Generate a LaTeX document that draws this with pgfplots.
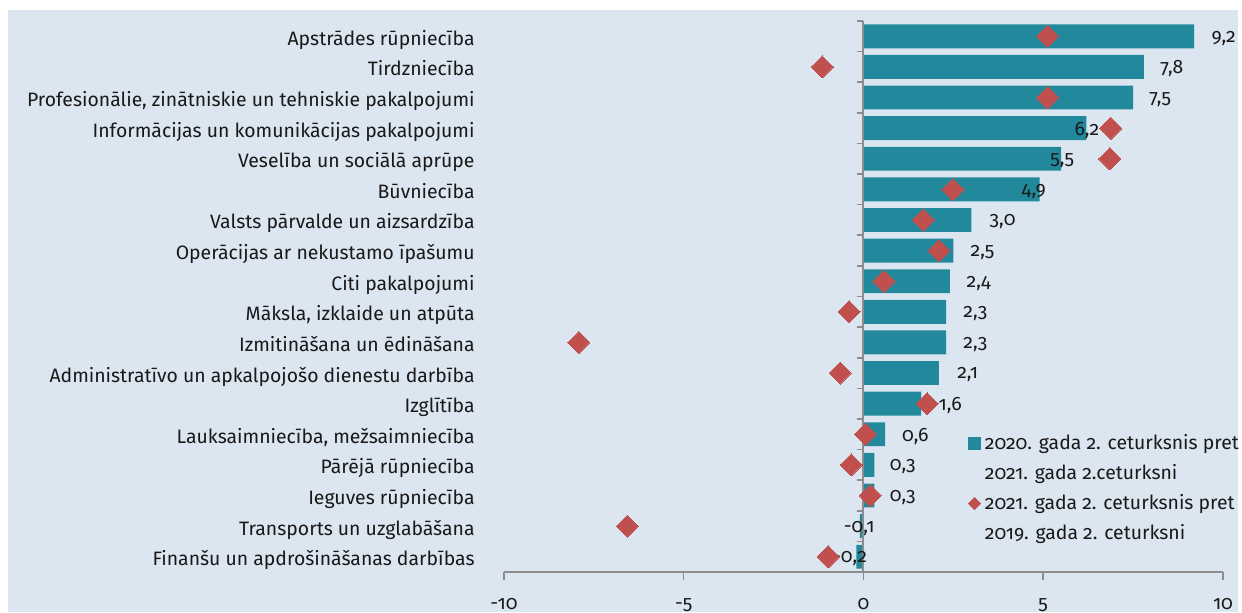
\documentclass[border=0pt]{standalone}
\usepackage{pgfplots}
\pgfplotsset{compat=1.18}
\usepackage{pgfplotstable}
\usepackage{fontspec}
\setmainfont[Numbers=OldStyle]{Fira Sans}

\definecolor{colBg}{RGB}{220,230,241}
\definecolor{colBar}{RGB}{33,137,155}
\definecolor{colDia}{RGB}{192,80,77}
\definecolor{colAxis}{RGB}{140,140,140}
\definecolor{colText}{RGB}{25,25,25}

% idx: row from the top, bar = 2020Q2 vs 2021Q2, dia = 2021Q2 vs 2019Q2
% lx: where the value label starts
\pgfplotstableread{
idx bar  dia    lx     lab
0   9.2  5.12   9.67   9,2
1   7.8  -1.15  8.25   7,8
2   7.5  5.12   7.94   7,5
3   6.2  6.88   5.86   6,2
4   5.5  6.85   5.19   5,5
5   4.9  2.49   4.39   4,9
6   3.0  1.66   3.50   3,0
7   2.5  2.10   2.97   2,5
8   2.4  0.57   2.86   2,4
9   2.3  -0.40  2.77   2,3
10  2.3  -7.92  2.77   2,3
11  2.1  -0.65  2.60   2,1
12  1.6  1.77   2.08   1,6
13  0.6  0.05   1.06   0,6
14  0.3  -0.34  0.72   0,3
15  0.3  0.19   0.72   0,3
16  -0.1 -6.57  -0.56  -0,1
17  -0.2 -0.98  -0.86  -0,2
}\datatable

\newcommand{\chartfont}{\fontsize{9.7}{11.6}\selectfont}

\begin{document}
\begin{tikzpicture}
\fill[colBg] (-248pt,-20pt) rectangle (367pt,281pt);
\begin{axis}[
    at={(0,0)}, anchor=south west,
    scale only axis,
    width=359.5pt, height=275.5pt,
    font=\chartfont,
    clip=false,
    xmin=-10, xmax=10,
    ymin=-0.5, ymax=17.5,
    y dir=reverse,
    axis x line*=bottom,
    axis y line*=left,
    y axis line style={draw=none},
    x axis line style={draw=colAxis, line width=0.75pt},
    xtick={-10,-5,0,5,10},
    xticklabels={-10,-5,0,5,10},
    tick align=outside,
    major tick length=4pt,
    xtick style={draw=colAxis, line width=0.75pt},
    xticklabel style={anchor=base, inner sep=0pt, yshift=-14.5pt, text=colText},
    ytick={0,...,17},
    yticklabels={
        Apstrādes rūpniecība,
        Tirdzniecība,
        {Profesionālie, zinātniskie un tehniskie pakalpojumi},
        Informācijas un komunikācijas pakalpojumi,
        Veselība un sociālā aprūpe,
        Būvniecība,
        Valsts pārvalde un aizsardzība,
        Operācijas ar nekustamo īpašumu,
        Citi pakalpojumi,
        {Māksla, izklaide un atpūta},
        Izmitināšana un ēdināšana,
        Administratīvo un apkalpojošo dienestu darbība,
        Izglītība,
        {Lauksaimniecība, mežsaimniecība},
        Pārējā rūpniecība,
        Ieguves rūpniecība,
        Transports un uzglabāšana,
        Finanšu un apdrošināšanas darbības},
    ytick style={draw=none},
    yticklabel style={anchor=base east, inner sep=0pt, xshift=-10.5pt, yshift=-4.5pt, text=colText},
    legend style={
        draw=none, fill=none,
        at={(0.645,0.258)}, anchor=north west,
        font=\chartfont,
        text=colText,
        row sep=2pt,
        inner sep=0pt,
    },
    legend cell align=left,
]

\addplot[xbar, bar width=0.78, fill=colBar, draw=none, forget plot]
    table[x=bar, y=idx] {\datatable};

\addplot[draw=colAxis, line width=1pt, forget plot]
    coordinates {(0,-0.5) (0,17.5)};
\addplot[only marks, mark=-, mark size=1.5pt, forget plot,
    mark options={xshift=-1.5pt, draw=colAxis, line width=0.8pt}]
    coordinates {(0,-0.5)(0,0.5)(0,1.5)(0,2.5)(0,3.5)(0,4.5)(0,5.5)(0,6.5)(0,7.5)
                 (0,8.5)(0,9.5)(0,10.5)(0,11.5)(0,12.5)(0,13.5)(0,14.5)(0,15.5)(0,16.5)};

\addplot[draw=none, mark=none, forget plot,
    nodes near coords, point meta=explicit symbolic,
    nodes near coords style={anchor=west, inner sep=0pt, yshift=-1pt, text=colText,
        font=\chartfont}]
    table[x=lx, y=idx, meta=lab] {\datatable};

\addplot[colDia, only marks, mark=square*, mark size=3.9pt, forget plot,
    mark options={rotate=45, fill=colDia, draw=colDia, line width=0pt}]
    table[x=dia, y=idx] {\datatable};

\addlegendimage{legend image code/.code={
    \fill[colBar] (-3pt,-3pt) rectangle (3pt,3pt);}}
\addlegendentry{2020. gada 2. ceturksnis pret}
\addlegendimage{empty legend}
\addlegendentry{2021. gada 2.ceturksni}
\addlegendimage{legend image code/.code={
    \fill[colDia, rotate=45] (-2.1pt,-2.1pt) rectangle (2.1pt,2.1pt);}}
\addlegendentry{2021. gada 2. ceturksnis pret}
\addlegendimage{empty legend}
\addlegendentry{2019. gada 2. ceturksni}

\end{axis}
\pgfresetboundingbox
\path[use as bounding box] (-252pt,-20pt) rectangle (369pt,286pt);
\end{tikzpicture}
\end{document}
